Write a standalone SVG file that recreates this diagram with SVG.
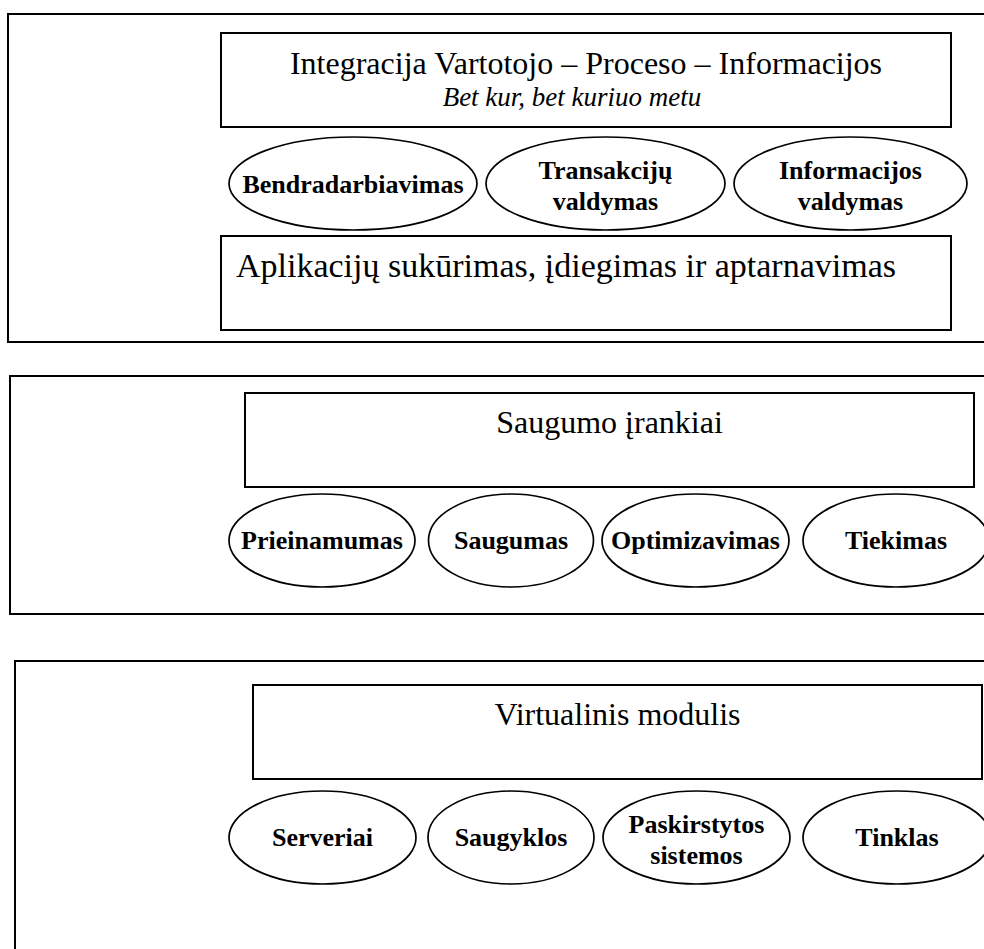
<svg xmlns="http://www.w3.org/2000/svg" width="984" height="949" viewBox="0 0 984 949">
  <style>
    .frame { fill: #fff; stroke: #000; stroke-width: 2; }
    .box { fill: #fff; stroke: #000; stroke-width: 2; }
    .oval { fill: #fff; stroke: #000; stroke-width: 1.7; }
    .title { font-family: "Liberation Serif", "Times New Roman", serif; font-size: 32px; fill: #000; text-anchor: middle; }
    .big { font-size: 34px; }
    .sub { font-family: "Liberation Serif", "Times New Roman", serif; font-size: 27px; font-style: italic; fill: #000; text-anchor: middle; }
    .lbl { font-family: "Liberation Serif", "Times New Roman", serif; font-size: 26px; font-weight: bold; fill: #000; text-anchor: middle; }
  </style>
  <rect width="984" height="949" fill="#fff"/>

  <!-- Layer 1: integration / applications -->
  <g id="layer-integration">
    <rect class="frame" x="8" y="14" width="990" height="328"/>
    <g id="integration-box">
      <rect class="box" x="221" y="33" width="730" height="94"/>
      <text class="title" x="586" y="74">Integracija Vartotojo – Proceso – Informacijos</text>
      <text class="sub" x="572" y="106">Bet kur, bet kuriuo metu</text>
    </g>
    <g id="collaboration">
      <ellipse class="oval" cx="353" cy="183.5" rx="124" ry="46.5"/>
      <text class="lbl" x="353" y="193">Bendradarbiavimas</text>
    </g>
    <g id="transactions">
      <ellipse class="oval" cx="605.5" cy="183.5" rx="119.5" ry="46.5"/>
      <text class="lbl" x="605.5" y="179">Transakcijų</text>
      <text class="lbl" x="605.5" y="210">valdymas</text>
    </g>
    <g id="information">
      <ellipse class="oval" cx="850.5" cy="183.5" rx="116.5" ry="46.5"/>
      <text class="lbl" x="850.5" y="179">Informacijos</text>
      <text class="lbl" x="850.5" y="210">valdymas</text>
    </g>
    <g id="applications-box">
      <rect class="box" x="221" y="236" width="730" height="94"/>
      <text class="title big" x="566" y="277">Aplikacijų sukūrimas, įdiegimas ir aptarnavimas</text>
    </g>
  </g>

  <!-- Layer 2: security tools -->
  <g id="layer-security">
    <rect class="frame" x="10" y="376" width="990" height="238"/>
    <g id="security-box">
      <rect class="box" x="245" y="393" width="729" height="94"/>
      <text class="title" x="609.5" y="433">Saugumo įrankiai</text>
    </g>
    <g id="availability">
      <ellipse class="oval" cx="322" cy="540.5" rx="93" ry="46.5"/>
      <text class="lbl" x="322" y="549">Prieinamumas</text>
    </g>
    <g id="security">
      <ellipse class="oval" cx="511" cy="540.5" rx="82.5" ry="46.5"/>
      <text class="lbl" x="511" y="549">Saugumas</text>
    </g>
    <g id="optimization">
      <ellipse class="oval" cx="695.5" cy="540.5" rx="93.5" ry="46.5"/>
      <text class="lbl" x="695.5" y="549">Optimizavimas</text>
    </g>
    <g id="provisioning">
      <ellipse class="oval" cx="896" cy="540.5" rx="93" ry="46.5"/>
      <text class="lbl" x="896" y="549">Tiekimas</text>
    </g>
  </g>

  <!-- Layer 3: virtualization -->
  <g id="layer-virtual">
    <rect class="frame" x="15" y="661" width="990" height="300"/>
    <g id="virtual-box">
      <rect class="box" x="253" y="685" width="729" height="94"/>
      <text class="title" x="617.5" y="725">Virtualinis modulis</text>
    </g>
    <g id="servers">
      <ellipse class="oval" cx="322.5" cy="837.5" rx="93.5" ry="46.5"/>
      <text class="lbl" x="322.5" y="846">Serveriai</text>
    </g>
    <g id="storage">
      <ellipse class="oval" cx="511" cy="837.5" rx="83" ry="46.5"/>
      <text class="lbl" x="511" y="846">Saugyklos</text>
    </g>
    <g id="distributed">
      <ellipse class="oval" cx="696.5" cy="837.5" rx="93.5" ry="46.5"/>
      <text class="lbl" x="696.5" y="833">Paskirstytos</text>
      <text class="lbl" x="696.5" y="864">sistemos</text>
    </g>
    <g id="network">
      <ellipse class="oval" cx="897" cy="837.5" rx="94" ry="46.5"/>
      <text class="lbl" x="897" y="846">Tinklas</text>
    </g>
  </g>

  <g id="connectors"/>
</svg>
